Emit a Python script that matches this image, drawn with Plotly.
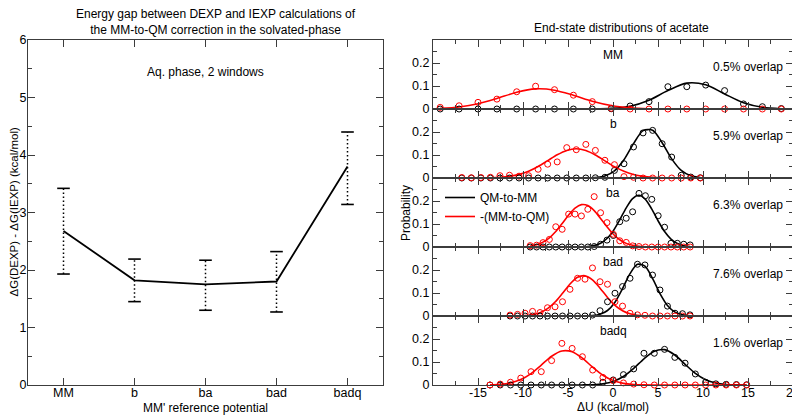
import plotly.graph_objects as go
from plotly.subplots import make_subplots

FONT = "Liberation Sans, Arial, sans-serif"
INK = "#000000"
FRAME = "#3c3c3c"
RED = "#ff0000"

# ---- left panel: DEXP - IEXP gap for each MM' reference potential ----
CATS = ["MM", "b", "ba", "bad", "badq"]
GAP = [2.68, 1.82, 1.75, 1.80, 3.80]
GAP_LO = [1.93, 1.45, 1.30, 1.27, 3.14]
GAP_HI = [3.42, 2.19, 2.17, 2.32, 4.40]

# ---- right panels: end-state distributions of acetate ----
PANELS = ["MM", "b", "ba", "bad", "badq"]
OVERLAP = ["0.5% overlap", "5.9% overlap", "6.3% overlap", "7.6% overlap", "1.6% overlap"]
DU_TICKS = [-15, -10, -5, 0, 5, 10, 15, 20]
DU_TICK_TEXT = ["-15", "-10", "-5", "0", "5", "10", "15", "20"]
P_TICKS = [0, 0.1, 0.2]
P_TICK_TEXT = ["0", "0.1", "0.2"]

DU_MM = [-19.2, -17.1, -15.0, -12.9, -10.7, -8.6, -6.5, -4.4, -2.3, -0.2,
         1.9, 4.0, 6.1, 8.2, 10.3, 12.4, 14.5, 16.6, 18.7]
QM2MM_MM = [0, 0, 0, 0, 0, 0, 0, 0, 0, 0.001,
            0.013, 0.032, 0.097, 0.097, 0.104, 0.080, 0.022, 0.010, 0.002]
QM2MM_MM_FIT = [0, 0, 0, 0, 0, 0, 0, 0, 0.0004, 0.0026,
                0.0121, 0.0382, 0.0802, 0.1124, 0.1051, 0.0655, 0.0272, 0.0076, 0.0014]
MM2QM_MM = [0.007, 0.014, 0.029, 0.043, 0.075, 0.099, 0.084, 0.060, 0.032, 0.003,
            0, 0, 0, 0, 0, 0, 0, 0, 0]
MM2QM_MM_FIT = [0.0027, 0.0089, 0.0228, 0.0458, 0.0727, 0.0874, 0.0818, 0.0597, 0.0339, 0.0150,
                0.0052, 0.0014, 0.0003, 0, 0, 0, 0, 0, 0]

DU_B = [-16.8, -15.74, -14.68, -13.62, -12.56, -11.5, -10.44, -9.38, -8.32, -7.26,
        -6.2, -5.14, -4.08, -3.02, -1.96, -0.9, 0.16, 1.22, 2.28, 3.34,
        4.4, 5.46, 6.52, 7.58, 8.64, 9.7]
QM2MM_B = [0, 0, 0, 0, 0, 0, 0, 0, 0, 0,
           0, 0, 0, 0, 0.001, 0.003, 0.033, 0.062, 0.135, 0.196,
           0.207, 0.149, 0.091, 0.012, 0.004, 0.001]
QM2MM_B_FIT = [0, 0, 0, 0, 0, 0, 0, 0, 0, 0,
               0, 0, 0, 0.0003, 0.0019, 0.0088, 0.031, 0.0795, 0.1495, 0.2059,
               0.2077, 0.1535, 0.083, 0.0329, 0.0096, 0.002]
MM2QM_B = [0.002, 0.001, 0.002, 0.003, 0.010, 0.012, 0.008, 0.010, 0.038, 0.060,
           0.070, 0.132, 0.123, 0.146, 0.120, 0.077, 0.058, 0.006, 0.003, 0,
           0, 0, 0, 0, 0, 0]
MM2QM_B_FIT = [0, 0.0001, 0.0004, 0.0011, 0.0031, 0.0074, 0.0157, 0.0298, 0.0503, 0.0755,
               0.101, 0.120, 0.127, 0.1195, 0.1001, 0.0745, 0.0494, 0.0291, 0.0153, 0.0071,
               0.003, 0.0011, 0.0004, 0.0001, 0, 0]

DU_BA = [-9.2, -8.49, -7.78, -7.07, -6.36, -5.65, -4.93, -4.22, -3.51, -2.8,
         -2.09, -1.38, -0.67, 0.04, 0.75, 1.47, 2.18, 2.89, 3.6, 4.31,
         5.02, 5.73, 6.44, 7.15, 7.86, 8.57]
QM2MM_BA = [0, 0, 0, 0, 0, 0, 0, 0, 0, 0,
            0.002, 0.012, 0.030, 0.050, 0.110, 0.125, 0.153, 0.233, 0.223, 0.207,
            0.136, 0.086, 0.016, 0.016, 0.012, 0.009]
QM2MM_BA_FIT = [0, 0, 0, 0, 0, 0, 0, 0.0002, 0.0006, 0.0021,
                0.0064, 0.0165, 0.0368, 0.071, 0.118, 0.1704, 0.2107, 0.2248, 0.2073, 0.1648,
                0.1131, 0.067, 0.0342, 0.0151, 0.0058, 0.0019]
MM2QM_BA = [0.006, 0.008, 0.019, 0.033, 0.088, 0.077, 0.143, 0.143, 0.135, 0.164,
            0.219, 0.149, 0.106, 0.055, 0.027, 0.020, 0.005, 0.002, 0, 0,
            0, 0, 0, 0, 0, 0]
MM2QM_BA_FIT = [0.0043, 0.010, 0.0211, 0.0398, 0.0672, 0.1018, 0.1388, 0.1688, 0.1841, 0.180,
                0.1579, 0.1242, 0.0876, 0.0553, 0.0314, 0.0158, 0.0072, 0.0029, 0.0011, 0.0004,
                0.0001, 0, 0, 0, 0, 0]

DU_BAD = [-11.44, -10.61, -9.77, -8.94, -8.11, -7.28, -6.44, -5.61, -4.78, -3.94,
          -3.11, -2.28, -1.44, -0.61, 0.22, 1.06, 1.89, 2.72, 3.55, 4.39,
          5.22, 6.05, 6.89, 7.72, 8.55]
QM2MM_BAD = [0, 0, 0, 0, 0, 0, 0, 0, 0, 0,
             0, 0.004, 0.023, 0.062, 0.099, 0.128, 0.164, 0.225, 0.222, 0.178,
             0.113, 0.043, 0.012, 0.010, 0.005]
QM2MM_BAD_FIT = [0, 0, 0, 0, 0, 0, 0, 0, 0, 0,
                 0.0004, 0.0018, 0.0075, 0.0239, 0.0599, 0.1189, 0.1842, 0.2249, 0.2164, 0.1632,
                 0.0972, 0.0456, 0.0166, 0.0048, 0.0011]
MM2QM_BAD = [0.004, 0.007, 0.012, 0.020, 0.015, 0.036, 0.040, 0.062, 0.116, 0.164,
             0.160, 0.209, 0.149, 0.138, 0.062, 0.043, 0.012, 0.005, 0.003, 0,
             0, 0, 0, 0, 0]
MM2QM_BAD_FIT = [0.0001, 0.0005, 0.0019, 0.0057, 0.0144, 0.0318, 0.0606, 0.0988, 0.1389, 0.1684,
                 0.1753, 0.1573, 0.1211, 0.0805, 0.0461, 0.0225, 0.0096, 0.0035, 0.0011, 0.0003,
                 0, 0, 0, 0, 0]

DU_BADQ = [-13.67, -12.53, -11.39, -10.25, -9.11, -7.97, -6.82, -5.68, -4.54, -3.4,
           -2.26, -1.12, 0.02, 1.16, 2.3, 3.44, 4.59, 5.73, 6.87, 8.01,
           9.15, 10.29, 11.43, 12.57, 13.71, 14.85]
QM2MM_BADQ = [0, 0, 0, 0, 0, 0, 0, 0, 0, 0,
              0, 0.012, 0.022, 0.045, 0.070, 0.138, 0.138, 0.155, 0.120, 0.095,
              0.048, 0.012, 0.005, 0.003, 0.002, 0.001]
QM2MM_BADQ_FIT = [0, 0, 0, 0, 0, 0, 0, 0, 0.0001, 0.0003,
                  0.0014, 0.0052, 0.0153, 0.0368, 0.0719, 0.114, 0.1471, 0.1537, 0.1304, 0.0899,
                  0.0503, 0.0229, 0.0085, 0.0025, 0.0006, 0.0001]
MM2QM_BADQ = [0.000, 0.004, 0.012, 0.030, 0.058, 0.058, 0.106, 0.181, 0.159, 0.123,
              0.065, 0.033, 0.019, 0.009, 0.004, 0.001, 0, 0, 0, 0,
              0, 0, 0, 0, 0, 0]
MM2QM_BADQ_FIT = [0.0008, 0.003, 0.0092, 0.0236, 0.0498, 0.0868, 0.125, 0.148, 0.1445, 0.1165,
                  0.0774, 0.0425, 0.0192, 0.0072, 0.0022, 0.0006, 0.0001, 0, 0, 0,
                  0, 0, 0, 0, 0, 0]

SERIES = [
    (DU_MM, QM2MM_MM, QM2MM_MM_FIT, MM2QM_MM, MM2QM_MM_FIT),
    (DU_B, QM2MM_B, QM2MM_B_FIT, MM2QM_B, MM2QM_B_FIT),
    (DU_BA, QM2MM_BA, QM2MM_BA_FIT, MM2QM_BA, MM2QM_BA_FIT),
    (DU_BAD, QM2MM_BAD, QM2MM_BAD_FIT, MM2QM_BAD, MM2QM_BAD_FIT),
    (DU_BADQ, QM2MM_BADQ, QM2MM_BADQ_FIT, MM2QM_BADQ, MM2QM_BADQ_FIT),
]

W, H = 800, 418
PAGE_PAD = 8          # the page body adds an 8px margin around the plot div
# panel edges in page pixels (top of first panel ... bottom of last)
EDGES_PX = [40, 109, 178, 247, 316, 385]


def fx(px):
    return (px - PAGE_PAD) / W


def fy(px):
    return 1 - (px - PAGE_PAD) / H


fig = make_subplots(
    rows=5, cols=2,
    specs=[[{"rowspan": 5}, {}], [None, {}], [None, {}], [None, {}], [None, {}]],
    vertical_spacing=0,
)

# ---------------- left panel ----------------
xi = list(range(len(CATS)))
err_x, err_y = [], []
for i, lo, hi in zip(xi, GAP_LO, GAP_HI):
    err_x += [i, i, None]
    err_y += [lo, hi, None]

fig.add_trace(go.Scatter(
    x=err_x, y=err_y, mode="lines",
    line=dict(color=INK, width=1.5, dash="1.5px,2.5px"),
    showlegend=False, hoverinfo="skip",
), row=1, col=1)
fig.add_trace(go.Scatter(
    x=xi + xi, y=GAP_LO + GAP_HI, mode="markers",
    marker=dict(symbol="line-ew", size=9, color=INK, line=dict(color=INK, width=1.6)),
    showlegend=False, hoverinfo="skip",
), row=1, col=1)
fig.add_trace(go.Scatter(
    x=xi, y=GAP, mode="lines",
    line=dict(color=INK, width=1.8),
    showlegend=False,
), row=1, col=1)

# ---------------- right panels ----------------
for n, (du, qm, qm_fit, mm, mm_fit) in enumerate(SERIES):
    row = n + 1
    show = PANELS[n] == "ba"
    fig.add_trace(go.Scatter(
        x=du, y=qm_fit, mode="lines", name="QM-to-MM",
        line=dict(color=INK, width=1.6, shape="spline", smoothing=0.8),
        showlegend=show, cliponaxis=False,
    ), row=row, col=2)
    fig.add_trace(go.Scatter(
        x=du, y=mm_fit, mode="lines", name="-(MM-to-QM)",
        line=dict(color=RED, width=1.6, shape="spline", smoothing=0.8),
        showlegend=show, cliponaxis=False,
    ), row=row, col=2)
    fig.add_trace(go.Scatter(
        x=du, y=qm, mode="markers",
        marker=dict(symbol="circle-open", size=6, color=INK, line=dict(width=1)),
        showlegend=False, cliponaxis=False,
    ), row=row, col=2)
    fig.add_trace(go.Scatter(
        x=du, y=mm, mode="markers",
        marker=dict(symbol="circle-open", size=6, color=RED, line=dict(width=1)),
        showlegend=False, cliponaxis=False,
    ), row=row, col=2)

axis_style = dict(
    showline=True, linecolor=FRAME, linewidth=1.2, mirror="ticks",
    ticks="inside", tickcolor=FRAME, tickwidth=1.2, ticklen=7,
    showgrid=False, zeroline=False, automargin=False,
    tickfont=dict(family=FONT, size=12.5, color=INK),
)

fig.update_xaxes(
    axis_style, row=1, col=1,
    domain=[fx(28), fx(383)], range=[-0.5, len(CATS) - 0.5],
    tickmode="array", tickvals=xi, ticktext=CATS, ticklabelstandoff=-4,
)
fig.update_yaxes(
    axis_style, row=1, col=1,
    domain=[fy(385), fy(40)], range=[0, 6], tick0=0, dtick=1,
    ticklabelstandoff=-2,
    minor=dict(ticks="inside", dtick=0.5, ticklen=4, tickcolor=FRAME, tickwidth=1.2),
)

for n in range(len(PANELS)):
    row = n + 1
    fig.update_xaxes(
        axis_style, row=row, col=2,
        domain=[fx(433), fx(793)], range=[-20, 20],
        tickmode="array", tickvals=DU_TICKS, ticktext=DU_TICK_TEXT,
        showticklabels=(row == len(PANELS)), ticklabelstandoff=-4,
        minor=dict(ticks="inside", dtick=2.5, tick0=0, ticklen=4, tickcolor=FRAME, tickwidth=1.2),
    )
    fig.update_yaxes(
        axis_style, row=row, col=2,
        domain=[fy(EDGES_PX[n + 1]), fy(EDGES_PX[n])], range=[0, 0.3],
        tickmode="array", tickvals=P_TICKS, ticktext=P_TICK_TEXT,
        minor=dict(ticks="inside", dtick=0.05, tick0=0, ticklen=4, tickcolor=FRAME, tickwidth=1.2),
    )


def label(text, x, y, angle=0, size=12):
    return dict(text=text, x=fx(x), y=fy(y), xref="paper", yref="paper",
                showarrow=False, xanchor="center", yanchor="middle",
                textangle=angle, font=dict(size=size))


annotations = [
    label("Energy gap between DEXP and IEXP calculations of<br>"
          "the MM-to-QM correction in the solvated-phase", 216, 22.5),
    label("End-state distributions of acetate", 621, 28),
    label("Aq. phase, 2 windows", 205, 72),
    label("MM' reference potential", 205, 408),
    label("ΔG(DEXP) - ΔG(IEXP) (kcal/mol)", 13.5, 212, -90, 11.5),
    label("Probability", 406, 213, -90),
    label("ΔU (kcal/mol)", 613, 407),
]
for n, (name, ov) in enumerate(zip(PANELS, OVERLAP)):
    ax = str(n + 2)
    annotations.append(dict(
        text=name, x=0, y=1, xref="x" + ax, yref="y" + ax + " domain",
        yshift=-15, showarrow=False, xanchor="center", yanchor="middle",
        font=dict(size=12),
    ))
    annotations.append(dict(
        text=ov, x=fx(785), y=1, xref="paper", yref="y" + ax + " domain",
        yshift=-27, showarrow=False, xanchor="right", yanchor="middle",
        font=dict(size=12),
    ))

fig.update_layout(
    width=W, height=H,
    margin=dict(l=0, r=0, t=0, b=0, autoexpand=False),
    paper_bgcolor="white", plot_bgcolor="white",
    font=dict(family=FONT, color=INK, size=12),
    annotations=annotations,
    legend=dict(
        x=fx(440), y=fy(183), xanchor="left", yanchor="top",
        bgcolor="rgba(0,0,0,0)", font=dict(size=12),
        itemwidth=30,
    ),
    hovermode=False,
)

fig.write_html("out.html")
